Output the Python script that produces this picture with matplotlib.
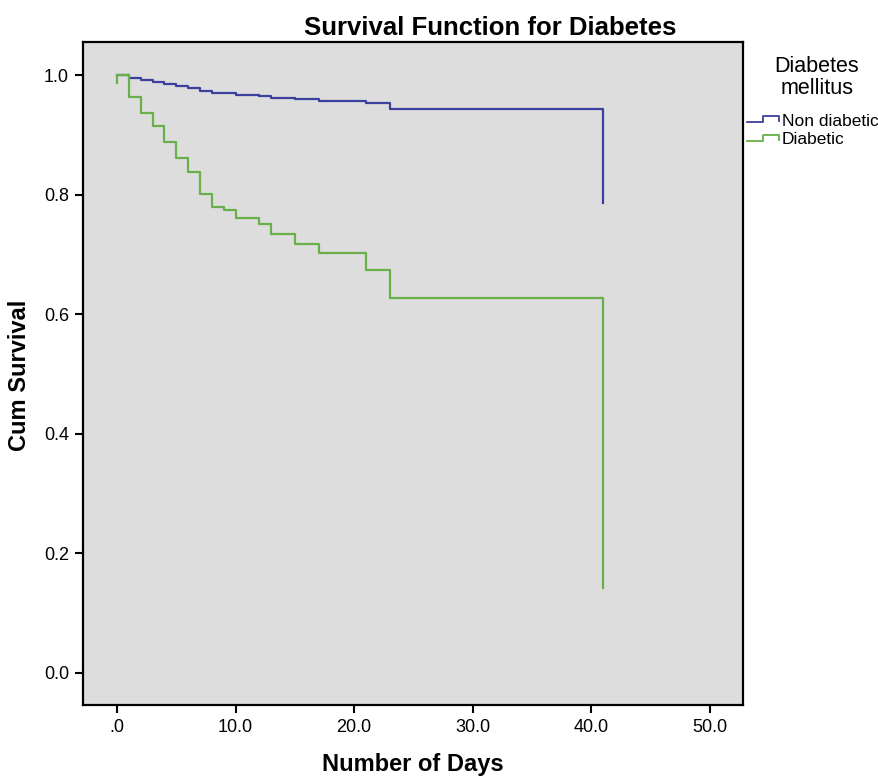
import matplotlib
matplotlib.use("Agg")
import matplotlib.pyplot as plt
from matplotlib.lines import Line2D

plt.rcParams['font.family'] = ['Liberation Sans', 'DejaVu Sans']

# Kaplan-Meier step data (days, cumulative survival)
nondiab_days = [0, 1, 2, 3, 4, 5, 6, 7, 8, 10, 12, 13, 15, 17, 21, 23, 41]
nondiab_surv = [1.0, 0.9956, 0.992, 0.989, 0.9856, 0.982, 0.979, 0.974, 0.9705,
                0.967, 0.9655, 0.9626, 0.960, 0.9576, 0.954, 0.944, 0.787]
diab_days = [0, 0, 1, 2, 3, 4, 5, 6, 7, 8, 9, 10, 12, 13, 15, 17, 21, 23, 41]
diab_surv = [0.988, 1.0, 0.964, 0.937, 0.915, 0.889, 0.861, 0.839, 0.802, 0.779,
             0.775, 0.762, 0.752, 0.735, 0.718, 0.7035, 0.674, 0.6276, 0.142]

groups = ['Non diabetic', 'Diabetic']
x_ticks = [0, 10, 20, 30, 40, 50]
x_labels = ['.0', '10.0', '20.0', '30.0', '40.0', '50.0']
y_ticks = [0.0, 0.2, 0.4, 0.6, 0.8, 1.0]
y_labels = ['0.0', '0.2', '0.4', '0.6', '0.8', '1.0']

BLUE = '#3b3f9e'
GREEN = '#69b04b'
W, H = 879, 778


def fx(px):
    return px / W


def fy(py):
    return 1 - py / H


fig = plt.figure(figsize=(W / 100, H / 100), dpi=100)
ax = fig.add_axes([fx(83), fy(705), 660 / W, 663 / H])
ax.set_facecolor('#dddddd')

ax.step(nondiab_days, nondiab_surv, where='post', color=BLUE, lw=1.6)
ax.step(diab_days, diab_surv, where='post', color=GREEN, lw=1.6)

ax.set_xlim(-2.87, 52.8)
ax.set_ylim(-0.054, 1.056)
ax.set_xticks(x_ticks)
ax.set_xticklabels(x_labels)
ax.set_yticks(y_ticks)
ax.set_yticklabels(y_labels)
ax.tick_params(direction='out', length=6, width=1.5, labelsize=13, pad=4)
for s in ax.spines.values():
    s.set_linewidth(1.6)

fig.text(fx(413), fy(765), 'Number of Days', ha='center', va='center',
         fontsize=17, fontweight='bold')
fig.text(fx(20), fy(375), 'Cum Survival', ha='center', va='center',
         rotation=90, fontsize=17, fontweight='bold')
fig.text(fx(490), fy(28), 'Survival Function for Diabetes',
         ha='center', va='center', fontsize=18.5, fontweight='bold')

# legend, SPSS style with little step glyphs
fig.text(fx(817), fy(66), 'Diabetes', ha='center', va='center', fontsize=15.5)
fig.text(fx(817), fy(88), 'mellitus', ha='center', va='center', fontsize=15.5)
for i, (name, col) in enumerate(zip(groups, [BLUE, GREEN])):
    yl = 122 + i * 18.5
    fig.add_artist(Line2D([fx(747), fx(763), fx(763), fx(779), fx(779)],
                          [fy(yl), fy(yl), fy(yl - 6), fy(yl - 6), fy(yl - 1)],
                          color=col, lw=1.3, transform=fig.transFigure))
    fig.text(fx(782), fy(yl - 1), name, ha='left', va='center', fontsize=12.5)

fig.savefig('out.png', dpi=100)
